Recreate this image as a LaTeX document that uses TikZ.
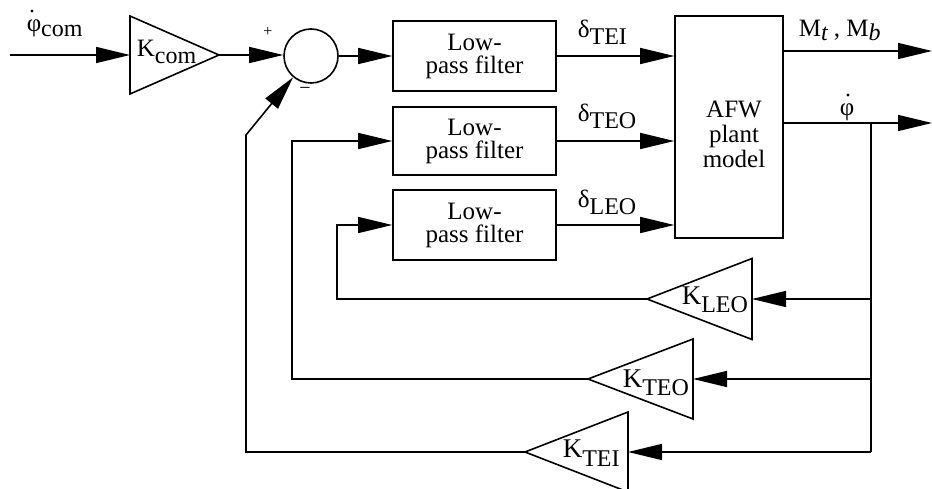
\documentclass[tikz,border=0pt]{standalone}
\usepackage{fontspec}
\setmainfont{Liberation Serif}
\usetikzlibrary{arrows.meta,calc}
\newcommand\lowsub[2][7pt]{\raisebox{-#1}{\fontsize{24}{24}\selectfont #2}}
\begin{document}
\begin{tikzpicture}[x=1pt,y=-1pt, line width=1.6pt,
  arr/.style={-{Triangle[length=34pt,width=16pt]}},
  blk/.style={draw, minimum width=163pt, minimum height=70pt, inner sep=0pt, align=center, font=\fontsize{25}{23}\selectfont},
  lbl/.style={inner sep=0pt, font=\fontsize{25}{25}\selectfont},
  gainlbl/.style={inner sep=0pt, anchor=base west, font=\fontsize{27}{27}\selectfont},
  dotmark/.style={fill, circle, inner sep=0pt, minimum size=3.2pt},
]
\useasboundingbox (0,0) rectangle (932,489);
% blocks
\node[circle,draw,minimum size=54pt,inner sep=0pt] (sum) at (311,56) {};
\node[blk] (lp1) at (474.5,56) {Low-\\pass filter};
\node[blk, minimum height=68pt] (lp2) at (474.5,141) {Low-\\pass filter};
\node[blk] (lp3) at (474.5,225) {Low-\\pass filter};
\node[draw, minimum width=108pt, minimum height=222pt, inner sep=0pt] (afw) at (729,127) {};
\node[lbl, align=center, font=\fontsize{25}{25}\selectfont] (afwt) at (734,134) {AFW\\plant\\model};
% gain triangles
\draw (130,16) -- (219,55) -- (130,94) -- cycle;
\coordinate (kcomin) at (130,55); \coordinate (kcomout) at (219,55);
\draw (752,258.5) -- (647,299) -- (752,339.5) -- cycle;
\coordinate (kleoin) at (752,299); \coordinate (kleoout) at (647,299);
\draw (693,339) -- (588,379) -- (693,419) -- cycle;
\coordinate (kteoin) at (693,379); \coordinate (kteoout) at (588,379);
\draw (628,412) -- (525,452) -- (628,492) -- cycle;
\coordinate (kteiin) at (628,452); \coordinate (kteiout) at (525,452);
\node[gainlbl, font=\fontsize{25}{25}\selectfont] (tkcom) at (136,57) {K\lowsub[7pt]{com}};
\node[gainlbl] (tkleo) at (681,305) {K\lowsub[8pt]{LEO}};
\node[gainlbl] (tkteo) at (622,387) {K\lowsub[8pt]{TEO}};
\node[gainlbl] (tktei) at (562,457) {K\lowsub[9pt]{TEI}};
% helper coordinates
\coordinate (in) at (10,55);
\coordinate (outM) at (932,51);
\coordinate (outP) at (932,123);
\coordinate (br) at (871,123);
\coordinate (brend) at (871,452);
\coordinate (c3) at (337,0);
\coordinate (c2) at (292,0);
\coordinate (bend) at (246,135);
% connectors
\draw[arr] (in) -- (kcomin);
\draw[arr] (kcomout) -- (kcomout -| sum.west);
\draw[arr] (sum.east) -- (lp1.west);
\draw[arr] (lp1.east) -- (lp1.east -| afw.west);
\draw[arr] (lp2.east) -- (lp2.east -| afw.west);
\draw[arr] (lp3.east) -- (lp3.east -| afw.west);
\draw[arr] (outM -| afw.east) -- (outM);
\draw[arr] (outP -| afw.east) -- (outP);
\draw (br) -- (brend);
\draw[arr] (kleoin -| br) -- (kleoin);
\draw[arr] (kteoin -| br) -- (kteoin);
\draw[arr] (brend) -- (kteiin);
\draw[arr] (kleoout) -- (kleoout -| c3) |- (lp3.west);
\draw[arr] (kteoout) -- (kteoout -| c2) |- (lp2.west);
\draw[arr] (kteiout) -| (bend) -- (sum.230);
% labels
\node[lbl, anchor=base west] (lphicom) at (26,32) {φ\lowsub[5pt]{com}};
\node[dotmark] (dotcom) at (32,11) {};
\node[lbl, font=\fontsize{16}{16}\selectfont] (plus) at (268,32) {+};
\node[lbl, font=\fontsize{20}{20}\selectfont] (minus) at (305,91) {\char"2212};
\node[lbl, anchor=base west] (dtei) at (577,38) {δ\lowsub{TEI}};
\node[lbl, anchor=base west] (dteo) at (577,122) {δ\lowsub{TEO}};
\node[lbl, anchor=base west] (dleo) at (577,208) {δ\lowsub{LEO}};
\node[lbl, anchor=base west] (mtmb) at (798,37) {M\lowsub[4pt]{\itshape t} , M\lowsub[4pt]{\itshape b}};
\node[lbl, anchor=base] (phiout) at (847,116) {φ};
\node[dotmark] (dotphi) at (848,95) {};
\end{tikzpicture}
\end{document}
